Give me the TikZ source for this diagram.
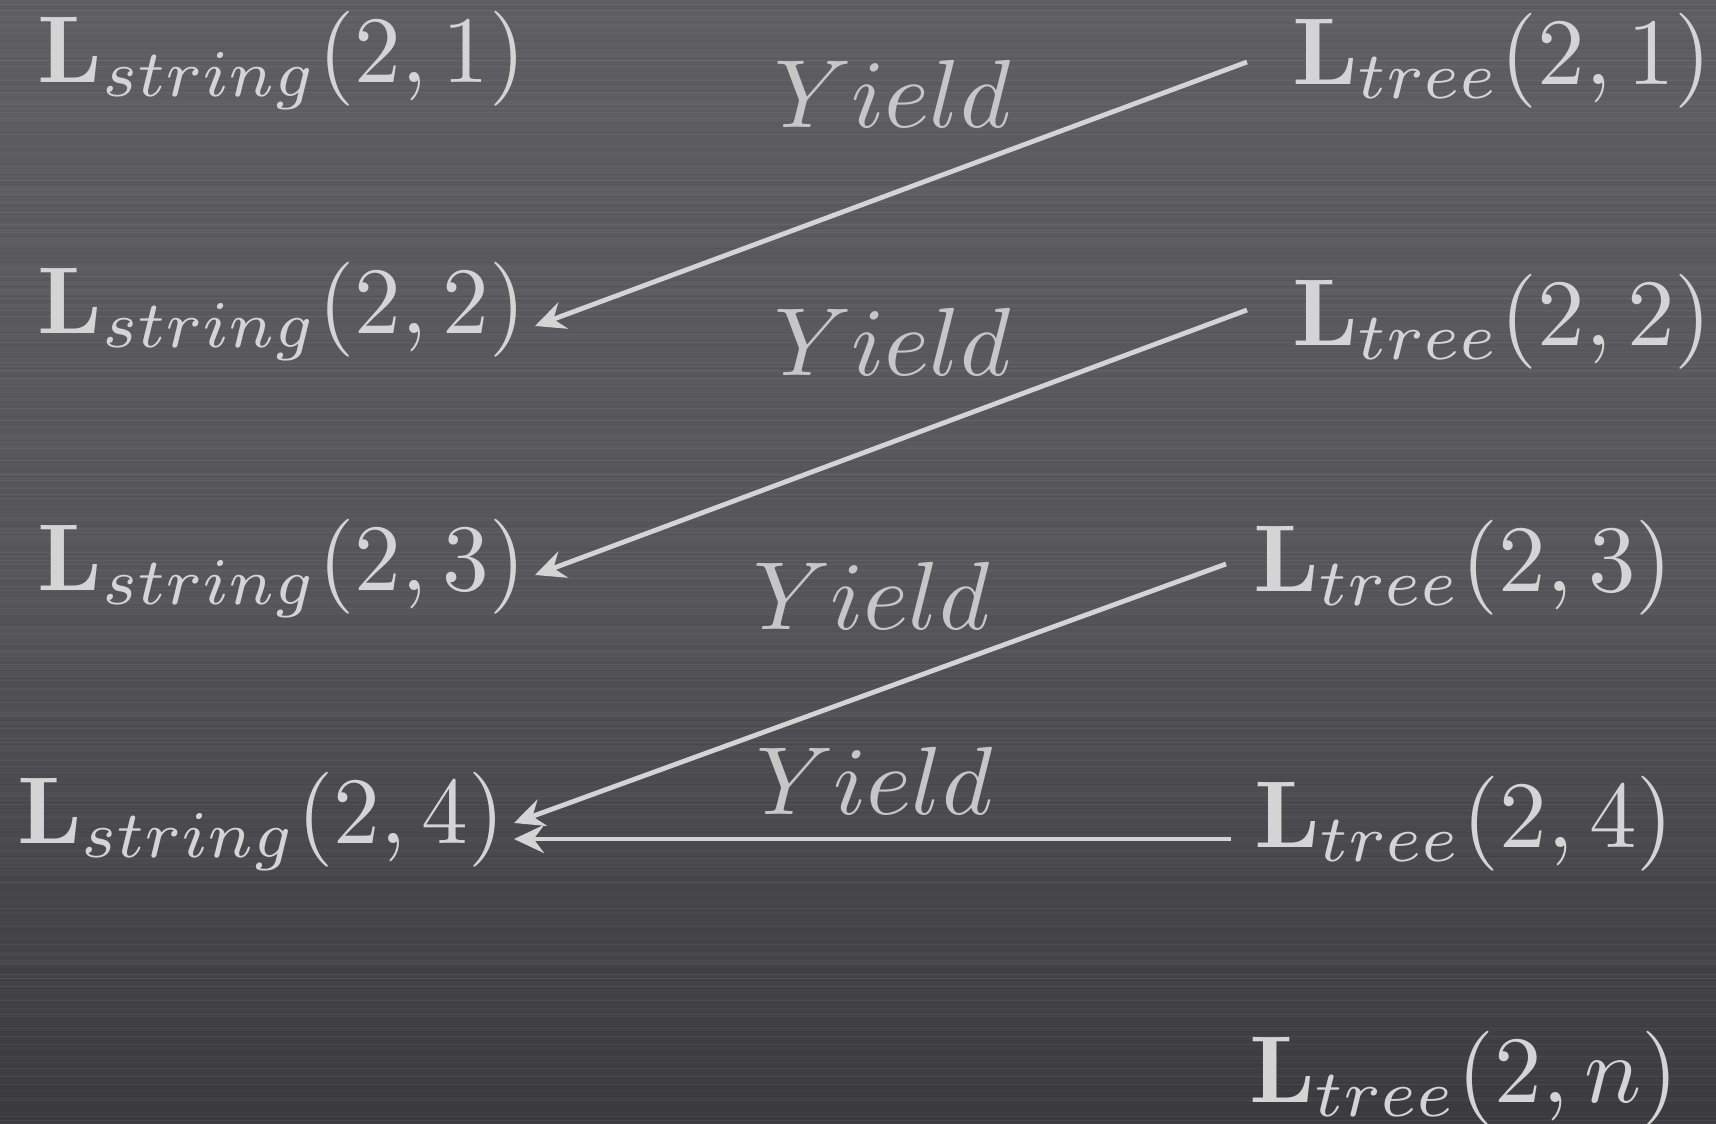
\documentclass[tikz,border=0pt]{standalone}
\usetikzlibrary{arrows.meta,calc}
\definecolor{txt}{HTML}{D4D4D4}
\definecolor{yld}{HTML}{C6C6C6}
\definecolor{bgtop}{HTML}{5E5E63}
\definecolor{bgmid}{HTML}{56565B}
\definecolor{bgbot}{HTML}{3C3C40}
\tikzset{
  lab/.style={inner sep=0pt, outer sep=0pt, scale=2.375, text=txt, anchor=base west},
  strlab/.style={lab, xscale=0.982},
  yieldlab/.style={inner sep=0pt, outer sep=0pt, scale=2.42, text=yld, anchor=base west},
  arr/.style={draw=txt, line width=1.2pt, -{Stealth[length=7.5pt,width=7pt,inset=2.6pt]}},
  streak/.style={line width=0.25pt}
}
\begin{document}
\begin{tikzpicture}[x=0.25pt,y=-0.25pt]
\useasboundingbox (0,0) rectangle (1716,1124);
\fill[top color=bgtop, bottom color=bgbot, middle color=bgmid] (0,0) rectangle (1716,1124);
% brushed-metal streaks
\pgfmathsetseed{42}
\foreach \i in {0,2,...,1122}{
  \pgfmathsetmacro\op{rnd*0.06}
  \pgfmathsetmacro\pick{rnd}
  \ifdim\pick pt<0.5pt
    \draw[streak, white, opacity=\op] (0,\i) -- (1716,\i);
  \else
    \draw[streak, black, opacity=\op] (0,\i) -- (1716,\i);
  \fi
}
% left column
\node[strlab] (s1) at (38,82) {$\mathbf{L}_{string}(2,1)$};
\node[strlab] (s2) at (38,333) {$\mathbf{L}_{string}(2,2)$};
\node[strlab] (s3) at (38,590) {$\mathbf{L}_{string}(2,3)$};
\node[strlab] (s4) at (17,843) {$\mathbf{L}_{string}(2,4)$};
% right column
\node[lab] (t1) at (1292,84) {$\mathbf{L}_{tree}(2,1)$};
\node[lab] (t2) at (1292,345) {$\mathbf{L}_{tree}(2,2)$};
\node[lab] (t3) at (1253,591) {$\mathbf{L}_{tree}(2,3)$};
\node[lab] (t4) at (1254,847) {$\mathbf{L}_{tree}(2,4)$};
\node[lab] (tn) at (1249,1102) {$\mathbf{L}_{tree}(2,n)$};
% yield labels
\node[yieldlab] (y1) at (774,127) {$Yield$};
\node[yieldlab] (y2) at (774,375) {$Yield$};
\node[yieldlab] (y3) at (753,629) {$Yield$};
\node[yieldlab] (y4) at (756,814) {$Yield$};
% arrows
\draw[arr] ($(t1.base west)+(-45,-22)$) -- ($(s2.base west)+(497,-7)$);
\draw[arr] ($(t2.base west)+(-45,-35)$) -- ($(s3.base west)+(497,-15)$);
\draw[arr] ($(t3.base west)+(-27,-27)$) -- ($(s4.base west)+(497,-20)$);
\draw[arr] ($(t4.base west)+(-23,-8)$) -- ($(s4.base west)+(497,-4)$);
\end{tikzpicture}
\end{document}
